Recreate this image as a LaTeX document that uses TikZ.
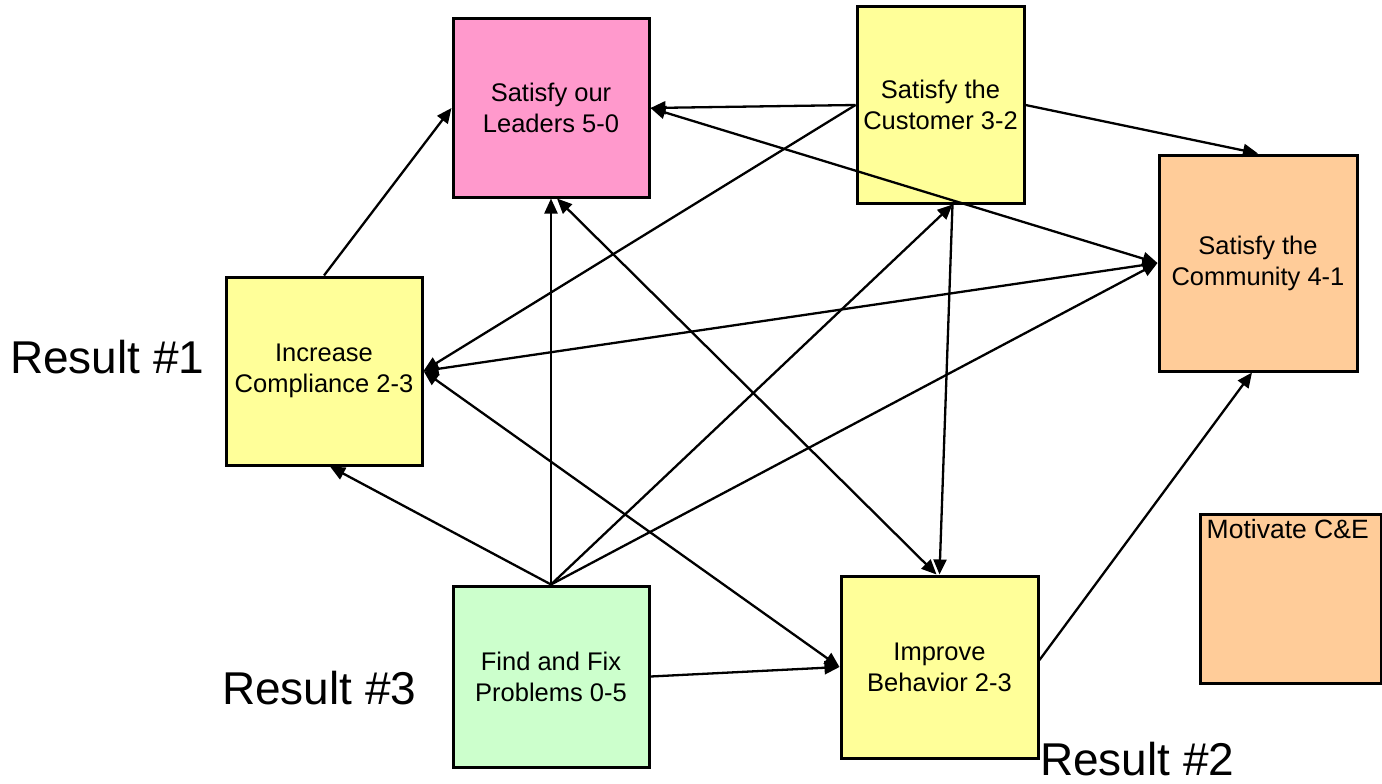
\documentclass[tikz,border=0pt]{standalone}
\usepackage{fontspec}
\setmainfont{Liberation Sans}
\usetikzlibrary{arrows.meta,calc}
\definecolor{pinkbox}{HTML}{FF99CC}
\definecolor{yellowbox}{HTML}{FFFF99}
\definecolor{orangebox}{HTML}{FFCC99}
\definecolor{greenbox}{HTML}{CCFFCC}
\tikzset{
  box/.style={draw=black, line width=3pt, rectangle, inner sep=0pt, align=center,
    font=\fontsize{25.5}{31}\selectfont},
  conn/.style={line width=2.3pt, -{Triangle[length=15pt,width=13pt]}},
  dconn/.style={line width=2.3pt, {Triangle[length=15pt,width=13pt]}-{Triangle[length=15pt,width=13pt]}},
  result/.style={anchor=west, font=\fontsize{46}{55}\selectfont, inner sep=0pt}
}
\begin{document}
\begin{tikzpicture}[x=1pt,y=-1pt]
\useasboundingbox[fill=white] (0,0) rectangle (1382,784);
% boxes
\node[box, fill=pinkbox, minimum width=196pt, minimum height=178pt] (lead) at (551,108) {Satisfy our\\Leaders 5-0};
\node[box, fill=yellowbox, minimum width=167pt, minimum height=196pt] (cust) at (940.5,105) {Satisfy the\\Customer 3-2};
\node[box, fill=orangebox, minimum width=198pt, minimum height=216pt] (comm) at (1258,263) {Satisfy the\\Community 4-1};
\node[box, fill=yellowbox, minimum width=196pt, minimum height=188pt] (comp) at (324,371) {Increase\\Compliance 2-3};
\node[box, fill=greenbox, minimum width=196pt, minimum height=181pt] (find) at (551,676.5) {Find and Fix\\Problems 0-5};
\node[box, fill=yellowbox, minimum width=197pt, minimum height=182pt] (beh) at (939.5,667) {Improve\\Behavior 2-3};
\node[box, fill=orangebox, minimum width=181pt, minimum height=169pt] (motiv) at (1290.5,598.5) {};
\node[anchor=base west, inner sep=0pt, font=\fontsize{26.5}{31}\selectfont] (motivt) at ($(motiv.north west)+(8,26)$) {Motivate C\&E};
% labels
\node[result] (r1) at (10,357) {Result \#1};
\node[result] (r3) at (222,688) {Result \#3};
\node[result] (r2) at (1040,759) {Result \#2};
% connectors
\draw[conn] (comp.north) -- (lead.west);
\draw[conn] (cust.west) -- (lead.east);
\draw[conn] (cust.west) -- (comp.east);
\draw[conn] (cust.east) -- (comm.north);
\draw[dconn] (lead.east) -- (comm.west);
\draw[dconn] (comp.east) -- (comm.west);
\draw[conn] (find.north) -- (lead.south);
\draw[conn] (find.north) -- ($(comp.south)+(6,0)$);
\draw[conn] (find.north) -- ($(cust.south)+(12,0)$);
\draw[conn] (find.north) -- (comm.west);
\draw[conn] (find.east) -- (beh.west);
\draw[dconn] ($(lead.south)+(6,0)$) -- ($(beh.north)+(-3,0)$);
\draw[dconn] (comp.east) -- (beh.west);
\draw[conn] ($(cust.south)+(12,0)$) -- (beh.north);
\draw[conn] ($(beh.east)+(0,-7)$) -- ($(comm.south)+(-6,0)$);
\end{tikzpicture}
\end{document}
